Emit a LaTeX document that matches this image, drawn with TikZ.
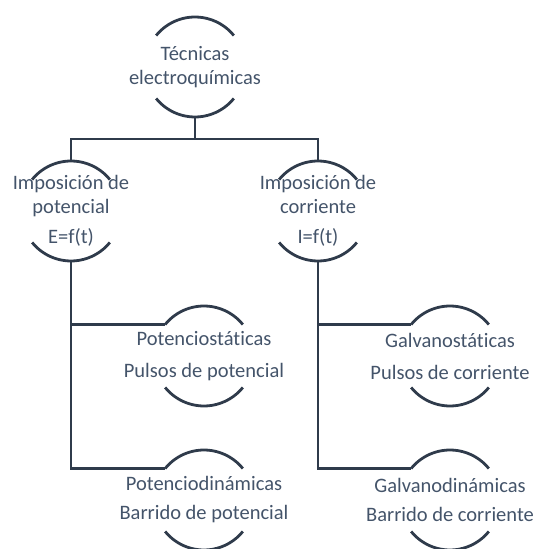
\documentclass[tikz,border=0pt]{standalone}
\usepackage{fontspec}
\setmainfont{Carlito}[Ligatures={NoCommon}]
\definecolor{linec}{HTML}{2F3B4B}
\definecolor{textc}{HTML}{44546A}
\begin{document}
\begin{tikzpicture}[x=1pt,y=1pt,
  ln/.style={draw=linec, line width=2.8pt},
  hub/.style={circle, minimum size=100pt, inner sep=0pt, outer sep=0pt},
  lbl/.style={text=textc, font=\fontsize{20.5}{24}\selectfont, align=center, inner sep=0pt}]
\useasboundingbox (0,0) rectangle (537,549);
\clip (0,0) rectangle (537,549);
% circles (invisible) and their texts
\node[hub] (top) at (195,482) {};
\node[hub] (ml)  at (71,338) {};
\node[hub] (mr)  at (318,338) {};
\node[hub] (ll1) at (204,193) {};
\node[hub] (ll2) at (204,49) {};
\node[hub] (lr1) at (450,193) {};
\node[hub] (lr2) at (450,49) {};
\node[lbl] (topt) at (top) {Técnicas\\electroquímicas};
\node[lbl] (mlt) at (ml) {Imposición de\\potencial\\[6pt]E=f(t)};
\node[lbl] (mrt) at (mr) {Imposición de\\corriente\\[6pt]I=f(t)};
\node[lbl] (ll1t) at (ll1) {Potenciostáticas\\[8pt]Pulsos de potencial};
\node[lbl] (ll2t) at (ll2) {Potenciodinámicas\\[5pt]Barrido de potencial};
\node[lbl] (lr1t) at (lr1) {Galvanostáticas\\[8pt]Pulsos de corriente};
\node[lbl] (lr2t) at (lr2) {Galvanodinámicas\\[5pt]Barrido de corriente};
% arcs
\foreach \n in {top,ml,mr,ll1,ll2,lr1,lr2}{
  \draw[ln] (\n.141) arc[start angle=141, end angle=39, radius=50pt];
  \draw[ln] (\n.-141) arc[start angle=-141, end angle=-39, radius=50pt];
}
% connectors
\coordinate (bus) at (195,410);
\draw[ln] (top.south) -- (bus);
\draw[ln] (ml.north) |- (bus) -| (mr.north);
\draw[ln] (ml.south) |- (ll2.141);
\draw[ln] (ml.south |- ll1.141) -- (ll1.141);
\draw[ln] (mr.south) |- (lr2.141);
\draw[ln] (mr.south |- lr1.141) -- (lr1.141);
\end{tikzpicture}
\end{document}
